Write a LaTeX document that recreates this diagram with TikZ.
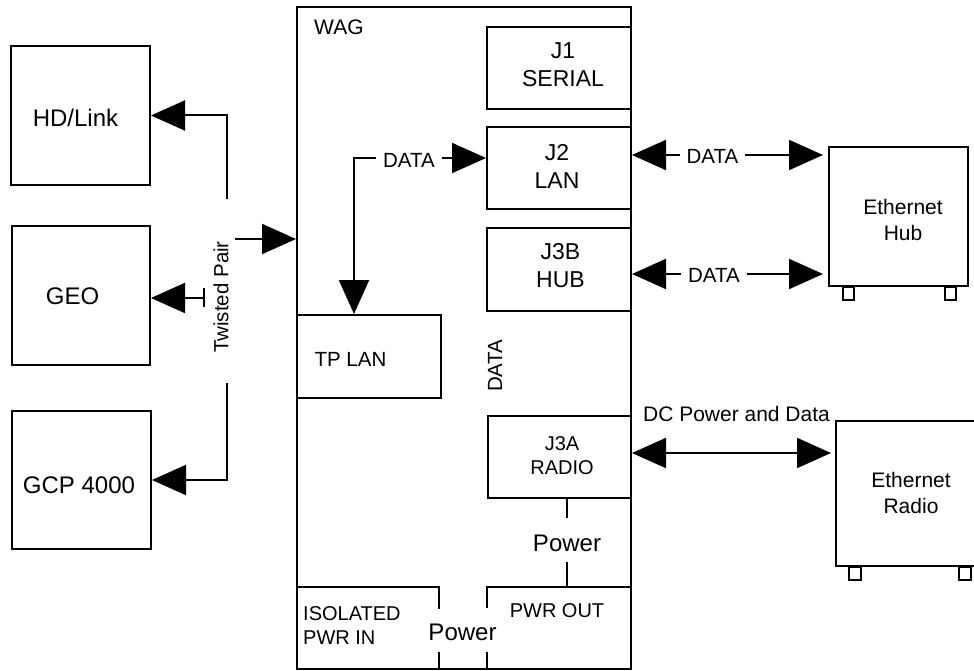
\documentclass[tikz,border=0pt]{standalone}
\usepackage{fontspec}
\setmainfont{Liberation Sans}
\usetikzlibrary{arrows.meta}
\tikzset{
 box/.style={draw, line width=2pt, rectangle, inner sep=0pt},
 ghost/.style={rectangle, inner sep=0pt, outer sep=0pt},
 lbl/.style={inner sep=0pt, font=\fontsize{23}{28}\selectfont, align=center},
 big/.style={inner sep=0pt, font=\fontsize{24}{28}\selectfont, align=center},
 sml/.style={inner sep=0pt, font=\fontsize{20.5}{24}\selectfont, align=center},
 mid/.style={inner sep=0pt, font=\fontsize{21}{26}\selectfont, align=center},
 wire/.style={line width=2pt},
 arr/.style={line width=2pt, -{Triangle[length=34pt,width=30pt]}},
 arrb/.style={line width=2pt, {Triangle[length=34pt,width=30pt]}-{Triangle[length=34pt,width=30pt]}},
 foot/.style={line width=2pt, draw, fill=white}
}
\begin{document}
\begin{tikzpicture}[x=1pt,y=-1pt]
\useasboundingbox (0,0) rectangle (974,671);
\fill[white] (0,0) rectangle (974,671);
\clip (0,0) rectangle (974,671);

% left devices
\node[box, minimum width=139pt, minimum height=139pt] (hd) at (80.5,115.5) {};
\node[big] (hdT) at (75.5,117.5) {HD/Link};
\node[box, minimum width=138pt, minimum height=139pt] (geo) at (81,295.5) {};
\node[big] (geoT) at (72.5,296.5) {GEO};
\node[box, minimum width=139pt, minimum height=138pt] (gcp) at (81.5,480) {};
\node[big] (gcpT) at (79,485.5) {GCP 4000};

% WAG
\node[box, minimum width=334pt, minimum height=662pt] (wag) at (464,338) {};
\node[mid, anchor=west] (wagT) at (314,27) {WAG};

\node[box, minimum width=144pt, minimum height=82pt] (j1) at (559,68) {};
\node[lbl] (j1T) at (563,64.5) {J1\\SERIAL};
\node[box, minimum width=144pt, minimum height=82pt] (j2) at (559,168) {};
\node[lbl] (j2T) at (557,166.5) {J2\\LAN};
\node[box, minimum width=144pt, minimum height=83pt] (j3b) at (559,269.5) {};
\node[lbl] (j3bT) at (560.5,265.5) {J3B\\HUB};
\node[box, minimum width=144pt, minimum height=83pt] (tplan) at (369,356.5) {};
\node[sml] (tplanT) at (350.5,359) {TP LAN};
\node[sml, rotate=90] (dataV) at (495,366) {DATA};
\node[box, minimum width=143pt, minimum height=82pt] (j3a) at (559.5,457) {};
\node[sml, font=\fontsize{20}{24}\selectfont] (j3aT) at (562,456) {J3A\\RADIO};

\node[ghost, minimum width=142pt, minimum height=82pt] (iso) at (368,628) {};
\node[sml, font=\fontsize{20}{24}\selectfont, anchor=north west, align=left] (isoT) at (303,606) {ISOLATED\\PWR IN};
\node[ghost, minimum width=144pt, minimum height=82pt] (pwrout) at (559,628) {};
\node[sml, font=\fontsize{20}{24}\selectfont] (pwroutT) at (557,610.5) {PWR OUT};
\node[big] (pwB) at (462.5,632.5) {Power};

\draw[wire] ([yshift=17pt]iso.south east) -- (iso.south east) -- (iso.south west)
  -- (iso.north west) -- (iso.north east) -- ([yshift=-22pt]iso.north east);
\draw[wire] ([yshift=17pt]pwrout.south west) -- (pwrout.south west) -- (pwrout.south east)
  -- (pwrout.north east) -- (pwrout.north west) -- ([yshift=-21pt]pwrout.north west);

% power link J3A - PWR OUT
\node[big] (pwV) at (567,543) {Power};
\draw[wire] (pwV.center |- j3a.south) -- ([yshift=25pt]pwV.center);
\draw[wire] ([yshift=-19pt]pwV.center) -- (pwV.center |- pwrout.north);

% internal DATA
\node[sml] (dataI) at (409,160) {DATA};
\coordinate (dCorner) at (354,158);
\coordinate (dL) at (376,158);
\coordinate (dR) at (442,158);
\draw[arr] (dL) -- (dCorner) -- (dCorner |- tplan.north);
\draw[arr] (dR) -- (dR -| j2.west);

% Ethernet Hub
\node[box, minimum width=139pt, minimum height=139pt] (hub) at (898.5,216.5) {};
\node[mid] (hubT) at (903,220) {Ethernet\\Hub};
\draw[foot] ([xshift=15pt]hub.south west) rectangle ++(11,13);
\draw[foot] ([xshift=-13pt]hub.south east) rectangle ++(-11,13);

\node[sml] (d1) at (712.5,156.5) {DATA};
\coordinate (d1L) at (680,155);
\coordinate (d1R) at (745,155);
\draw[arr] (d1L) -- (d1L -| j2.east);
\draw[arr, shorten >=5pt] (d1R) -- (d1R -| hub.west);

\node[sml] (d2) at (714,275.5) {DATA};
\coordinate (d2L) at (681,274);
\coordinate (d2R) at (747,274);
\draw[arr] (d2L) -- (d2L -| j3b.east);
\draw[arr, shorten >=5pt] (d2R) -- (d2R -| hub.west);

% Ethernet Radio
\node[box, minimum width=147pt, minimum height=145pt] (radio) at (909.5,493.5) {};
\node[mid] (radioT) at (911,493) {Ethernet\\Radio};
\draw[foot] ([xshift=14pt]radio.south west) rectangle ++(12,13);
\draw[foot] ([xshift=-13pt]radio.south east) rectangle ++(-12,13);

\node[mid] (dcT) at (736.5,414) {DC Power and Data};
\draw[arrb, shorten >=4pt] ([yshift=4pt]j3a.east) -- ([yshift=4pt]j3a.east -| radio.west);

% Twisted pair
\node[sml, rotate=90] (tpT) at (221,297) {Twisted Pair};
\coordinate (tpTop) at (227,199);
\draw[arr] (tpTop) |- (hd.east);
\coordinate (tpBot) at (227,383);
\draw[arr] (tpBot) |- (gcp.east);
\coordinate (tBar) at (204,298);
\draw[arr] (tBar) -- (tBar -| geo.east);
\draw[wire] ([yshift=10pt]tBar) -- ([yshift=-9pt]tBar);
\coordinate (tpIn) at (235,239);
\draw[arr] (tpIn) -- (tpIn -| wag.west);
\end{tikzpicture}
\end{document}
